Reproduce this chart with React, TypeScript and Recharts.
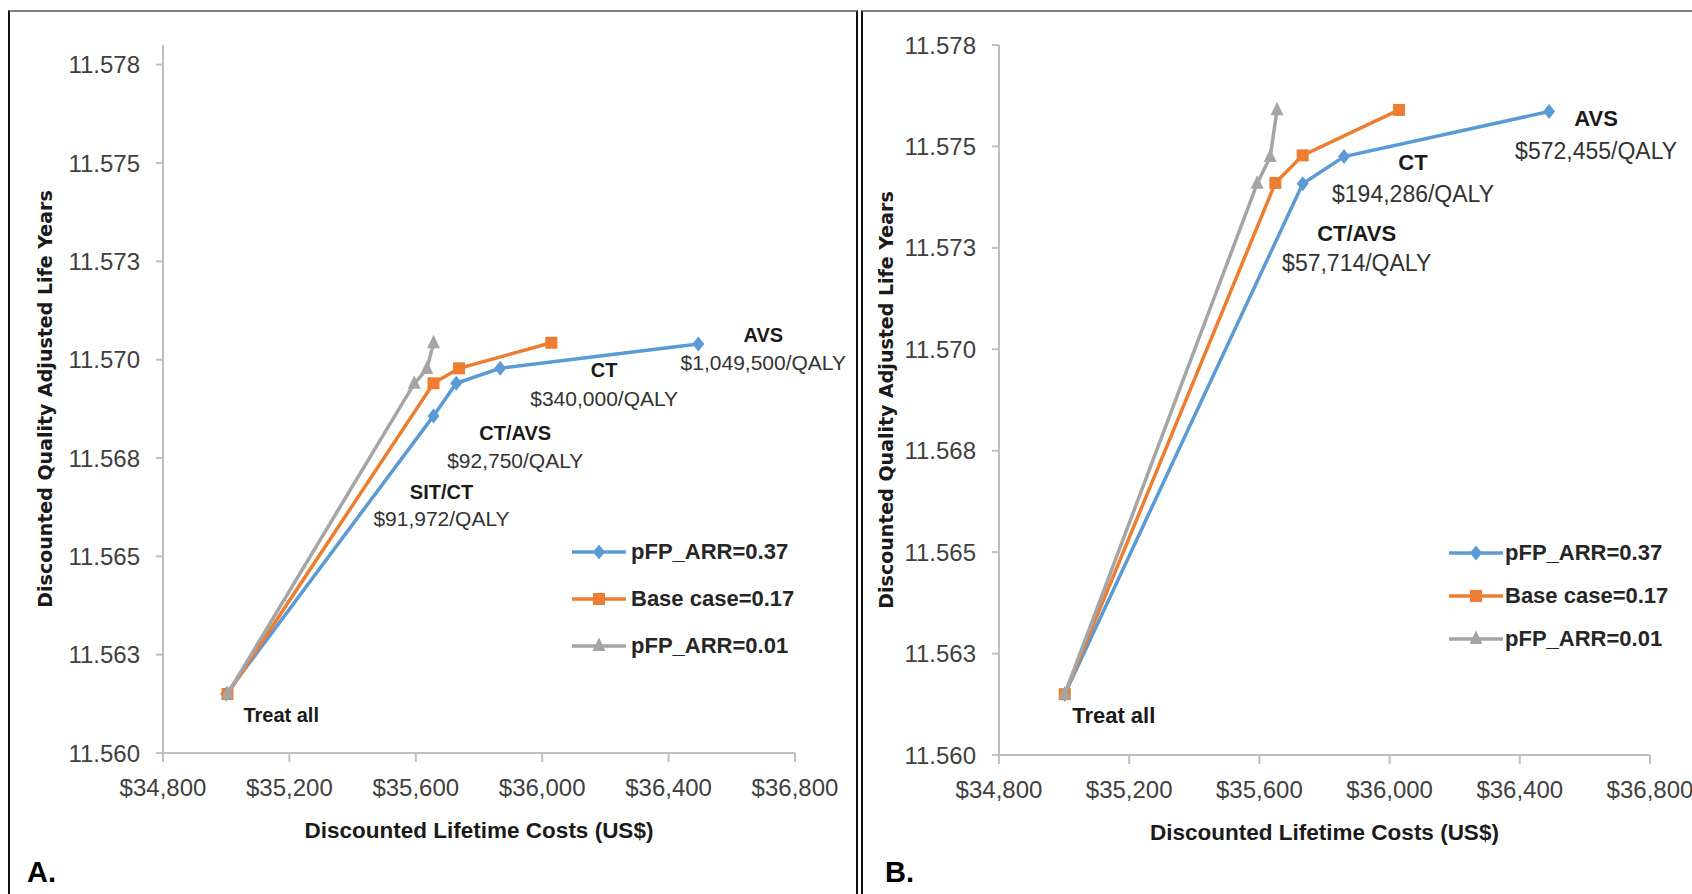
import React from 'react';
import { ScatterChart, Scatter, XAxis, YAxis, Legend, Label } from 'recharts';

// axis ticks
const xTicks = [34800, 35200, 35600, 36000, 36400, 36800];
const yTicks = [11.56, 11.5625, 11.565, 11.5675, 11.57, 11.5725, 11.575, 11.5775];
const yTickLabels = ['11.560', '11.563', '11.565', '11.568', '11.570', '11.573', '11.575', '11.578'];

const seriesNames = ['pFP_ARR=0.37', 'Base case=0.17', 'pFP_ARR=0.01'];

// Panel A
const costA037 = [35000, 35656, 35728, 35867, 36494];
const qalyA037 = [11.5615, 11.56857, 11.5694, 11.56978, 11.5704];
const costA017 = [35004, 35656, 35737, 36029];
const qalyA017 = [11.5615, 11.5694, 11.56978, 11.57043];
const costA001 = [35004, 35595, 35635, 35656];
const qalyA001 = [11.5615, 11.56939, 11.56976, 11.57042];
const strategiesA = ['Treat all', 'SIT/CT', 'CT/AVS', 'CT', 'AVS'];
const icersA = ['', '$91,972/QALY', '$92,750/QALY', '$340,000/QALY', '$1,049,500/QALY'];

// Panel B
const costB037 = [35002, 35733, 35860, 36490];
const qalyB037 = [11.5615, 11.57408, 11.57475, 11.57586];
const costB017 = [35002, 35649, 35733, 36029];
const qalyB017 = [11.5615, 11.5741, 11.57478, 11.5759];
const costB001 = [35002, 35593, 35633, 35654];
const qalyB001 = [11.5615, 11.57408, 11.57474, 11.57589];
const strategiesB = ['Treat all', 'CT/AVS', 'CT', 'AVS'];
const icersB = ['', '$57,714/QALY', '$194,286/QALY', '$572,455/QALY'];

const COLORS = ['#5B9BD5', '#ED7D31', '#A5A5A5'];
const SANS = "'Liberation Sans', Arial, sans-serif";

const zip = (c: number[], q: number[]) => c.map((cost, i) => ({ cost, qaly: q[i] }));

type Off = { dx: number; dy: number; dy2?: number };
// label placement relative to each blue point
const labelOffsetsA: Off[] = [
  { dx: 55, dy: 21 },
  { dx: 8, dy: 76, dy2: 103 },
  { dx: 59, dy: 50, dy2: 77 },
  { dx: 104, dy: 2, dy2: 30 },
  { dx: 65, dy: -9, dy2: 19 },
];
const labelOffsetsB: Off[] = [
  { dx: 49, dy: 21 },
  { dx: 54, dy: 50, dy2: 79 },
  { dx: 69, dy: 6, dy2: 37 },
  { dx: 47, dy: 7, dy2: 39 },
];

const Marker = ({ kind, cx, cy, fill }: { kind: number; cx: number; cy: number; fill: string }) => {
  if (kind === 0)
    return <polygon points={`${cx},${cy - 7.5} ${cx + 6},${cy} ${cx},${cy + 7.5} ${cx - 6},${cy}`} fill={fill} />;
  if (kind === 1) return <rect x={cx - 6} y={cy - 6} width={12} height={12} fill={fill} />;
  return <polygon points={`${cx},${cy - 8.5} ${cx + 6.5},${cy + 5} ${cx - 6.5},${cy + 5}`} fill={fill} />;
};

const renderLegend = (rowH: number, gap: number) => (props: any) => {
  const shown = (props.payload || []).map((e: any) => e.value);
  return (
    <div>
      {seriesNames.filter((n) => shown.includes(n)).map((name, i) => (
        <div key={name} style={{ display: 'flex', alignItems: 'center', height: rowH }}>
          <svg width={54} height={20} style={{ marginRight: gap }}>
            <line x1={0} y1={10} x2={54} y2={10} stroke={COLORS[i]} strokeWidth={3.5} />
            <Marker kind={i} cx={27} cy={10} fill={COLORS[i]} />
          </svg>
          <span style={{ fontFamily: SANS, fontWeight: 'bold', fontSize: 22, color: '#262626', whiteSpace: 'nowrap' }}>
            {name}
          </span>
        </div>
      ))}
    </div>
  );
};

const renderLabel = (offsets: Off[], nameSize: number, icerSize: number) => (props: any) => {
  const { cx, cy } = props;
  const p = props.payload || props;
  const o = offsets[p.idx];
  return (
    <g>
      <text x={cx + o.dx} y={cy + o.dy} textAnchor="middle" dominantBaseline="central"
        fontFamily={SANS} fontWeight="bold" fontSize={nameSize} fill="#1a1a1a">{p.name}</text>
      {p.icer ? (
        <text x={cx + o.dx} y={cy + (o.dy2 || 0)} textAnchor="middle" dominantBaseline="central"
          fontFamily={SANS} fontSize={icerSize} fill="#333">{p.icer}</text>
      ) : null}
    </g>
  );
};

interface PanelProps {
  left: number;
  width: number;
  margin: { top: number; right: number; bottom: number; left: number };
  yMax: number;
  series: { cost: number; qaly: number }[][];
  labels: any[];
  offsets: Off[];
  nameSize: number;
  icerSize: number;
  yTitleDx: number;
  legendPos: { left: number; top: number };
  legendRow: number;
  legendGap: number;
}

const Panel: React.FC<PanelProps> = (p) => (
  <div style={{ position: 'absolute', left: p.left, top: 0 }}>
    <ScatterChart width={p.width} height={894} margin={p.margin}>
      <XAxis
        type="number"
        dataKey="cost"
        domain={[34800, 36800]}
        ticks={xTicks}
        interval={0}
        height={90}
        tickFormatter={(v: number) => '$' + v.toLocaleString('en-US')}
        axisLine={{ stroke: '#BFBFBF', strokeWidth: 2 }}
        tickLine={{ stroke: '#BFBFBF', strokeWidth: 2 }}
        tickSize={9}
        tickMargin={17}
        tick={{ fill: '#404040', fontSize: 24, fontFamily: SANS }}
      >
        <Label value="Discounted Lifetime Costs (US$)" position="center" dy={32}
          fill="#1a1a1a" fontFamily={SANS} fontWeight="bold" fontSize={22.5} />
      </XAxis>
      <YAxis
        type="number"
        dataKey="qaly"
        domain={[11.56, p.yMax]}
        ticks={yTicks}
        interval={0}
        width={100}
        tickFormatter={(v: number) => yTickLabels[yTicks.indexOf(v)]}
        axisLine={{ stroke: '#BFBFBF', strokeWidth: 2 }}
        tickLine={{ stroke: '#BFBFBF', strokeWidth: 2 }}
        tickSize={7}
        tickMargin={16}
        tick={{ fill: '#404040', fontSize: 24, fontFamily: SANS }}
      >
        <Label value="Discounted Quality Adjusted Life Years" angle={-90} position="center" dx={p.yTitleDx}
          fill="#1a1a1a" fontFamily="'DejaVu Sans', Verdana, sans-serif" fontWeight="bold" fontSize={19} />
      </YAxis>
      <Legend
        layout="vertical"
        align="center"
        verticalAlign="middle"
        wrapperStyle={{ left: p.legendPos.left, top: p.legendPos.top, width: 280 }}
        content={renderLegend(p.legendRow, p.legendGap)}
      />
      {p.series.map((data, i) => (
        <Scatter
          key={seriesNames[i]}
          name={seriesNames[i]}
          data={data}
          fill={COLORS[i]}
          line={{ stroke: COLORS[i], strokeWidth: 3.5 }}
          lineType="joint"
          shape={(s: any) => <Marker kind={i} cx={s.cx} cy={s.cy} fill={COLORS[i]} />}
          isAnimationActive={false}
        />
      ))}
      <Scatter
        name="labels"
        data={p.labels}
        legendType="none"
        shape={renderLabel(p.offsets, p.nameSize, p.icerSize)}
        isAnimationActive={false}
      />
    </ScatterChart>
  </div>
);

const labelsA = costA037.map((c, i) => ({ cost: c, qaly: qalyA037[i], name: strategiesA[i], icer: icersA[i], idx: i }));
const labelsB = costB037.map((c, i) => ({ cost: c, qaly: qalyB037[i], name: strategiesB[i], icer: icersB[i], idx: i }));

export default function App() {
  return (
    <div style={{ position: 'absolute', left: 0, top: 0, width: 1692, height: 894, background: '#fff', overflow: 'hidden' }}>
      <div style={{ position: 'absolute', left: 8, top: 10, width: 850, height: 900, boxSizing: 'border-box',
        borderTop: '2px solid #7f7f7f', borderLeft: '2px solid #111', borderRight: '2px solid #111' }} />
      <div style={{ position: 'absolute', left: 861, top: 10, width: 900, height: 900, boxSizing: 'border-box',
        borderTop: '2px solid #7f7f7f', borderLeft: '2px solid #111' }} />

      <Panel
        left={0}
        width={860}
        margin={{ top: 45, right: 65, bottom: 51, left: 63 }}
        yMax={11.578}
        series={[zip(costA037, qalyA037), zip(costA017, qalyA017), zip(costA001, qalyA001)]}
        labels={labelsA}
        offsets={labelOffsetsA}
        nameSize={20}
        icerSize={21}
        yTitleDx={-68}
        legendPos={{ left: 572, top: 528 }}
        legendRow={47}
        legendGap={5}
      />
      <Panel
        left={850}
        width={842}
        margin={{ top: 45, right: 42, bottom: 49, left: 49 }}
        yMax={11.5775}
        series={[zip(costB037, qalyB037), zip(costB017, qalyB017), zip(costB001, qalyB001)]}
        labels={labelsB}
        offsets={labelOffsetsB}
        nameSize={22}
        icerSize={23}
        yTitleDx={-63}
        legendPos={{ left: 599, top: 531 }}
        legendRow={43}
        legendGap={2}
      />

      <div style={{ position: 'absolute', left: 27, top: 858, fontFamily: SANS, fontWeight: 'bold', fontSize: 29, lineHeight: 1 }}>A.</div>
      <div style={{ position: 'absolute', left: 885, top: 858, fontFamily: SANS, fontWeight: 'bold', fontSize: 29, lineHeight: 1 }}>B.</div>
    </div>
  );
}
